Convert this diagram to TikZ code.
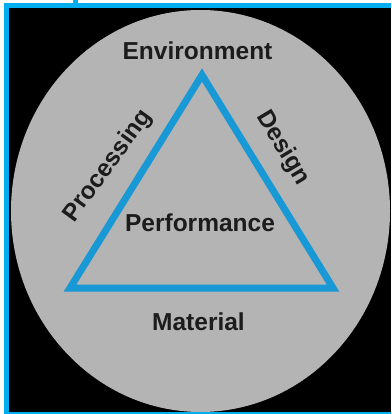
\documentclass[tikz,border=0pt]{standalone}
\usepackage{fontspec}
\setmainfont{Liberation Sans}
\usepackage{xcolor}
\definecolor{frameblue}{RGB}{0,174,239}
\definecolor{triblue}{RGB}{24,152,212}
\definecolor{discgray}{RGB}{180,180,180}
\definecolor{labelink}{RGB}{28,28,28}
\tikzset{
	label text/.style={text=labelink, font=\bfseries\fontsize{24.5}{29}\selectfont, inner sep=0pt},
}

\begin{document}
\begin{tikzpicture}[x=1pt, y=-1pt]
					\useasboundingbox (0,0) rectangle (391,414);
					% page and black panel
					\fill[white] (0,0) rectangle (391,414);
					\fill[black] (4,3) rectangle (391,414);
					% blue frame
					\draw[frameblue, line width=5pt] (75.5,0) -- (75.5,5.5);
					\draw[frameblue, line width=5pt] (4,5.5) -- (391,5.5);
					\draw[frameblue, line width=5pt] (6.5,3) -- (6.5,414);
					\draw[frameblue, line width=5pt] (4,414) -- (391,414);
					% gray disc
					\fill[discgray] (200.5,211) ellipse [x radius=189.5, y radius=201];
					% corners of the triangle
					\coordinate (apex) at (202,75);
					\coordinate (leftc) at (70,288);
					\coordinate (rightc) at (333,288);
					\draw[triblue, line width=7pt, line join=miter] (apex) -- (leftc) -- (rightc) -- cycle;
					% labels
					\node[label text, anchor=base] (env) at (197.5,60) {Environment};
					\node[label text, anchor=base] (perf) at (200,231) {Performance};
					\node[label text, anchor=base] (mat) at (198.5,330) {Material};
					\node[label text, rotate=54] (proc) at (108,166) {Processing};
					\node[label text, rotate=-59] (des) at (283,148) {Design};
				\end{tikzpicture}
\end{document}
